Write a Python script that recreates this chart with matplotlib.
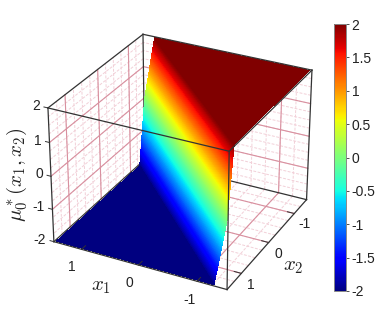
import numpy as np
import matplotlib
matplotlib.use("Agg")
import matplotlib.pyplot as plt
from matplotlib.cm import ScalarMappable
from matplotlib.colors import Normalize

plt.rcParams["font.family"] = ["Liberation Sans", "DejaVu Sans"]
plt.rcParams["mathtext.fontset"] = "cm"

# cross section of the surface, value against x1 + x2
profile_sum = [-2.94, -0.2, 0.2, 2.94]
profile_val = [2.0, 2.0, -2.0, -2.0]
surface_lim = 1.47

xy_ticks = [-1, 0, 1]
xy_labels = ["-1", "0", "1"]
z_ticks = [-2, -1, 0, 1, 2]
z_labels = ["-2", "-1", "0", "1", "2"]
cbar_ticks = [-2, -1.5, -1, -0.5, 0, 0.5, 1, 1.5, 2]
cbar_labels = ["-2", "-1.5", "-1", "-0.5", "0", "0.5", "1", "1.5", "2"]

XL = 1.5
ZL = 2.0
EDGE = "#333333"
MAJOR = "#d8909f"
MINOR = "#f2d0d8"

fig = plt.figure(figsize=(3.92, 3.27), dpi=100)
ax = fig.add_axes([0.049, 0.051, 0.815, 0.92], projection="3d", computed_zorder=False)
ax.set_axis_off()
ax.set_proj_type("persp", focal_length=1.0)
ax.view_init(elev=28.5, azim=117)
ax.set_box_aspect((1, 1, 0.78), zoom=1.0)
ax.set_xlim(-XL, XL)
ax.set_ylim(-XL, XL)
ax.set_zlim(-ZL, ZL)


def wall_grid(vals, zvals):
    # walls: x1 = XL, x2 = -XL and the floor
    for v, c, lw, ls, zo in vals:
        ax.plot([XL, XL], [v, v], [-ZL, ZL], color=c, lw=lw, ls=ls, zorder=zo)
        ax.plot([v, v], [-XL, -XL], [-ZL, ZL], color=c, lw=lw, ls=ls, zorder=zo)
        ax.plot([v, v], [-XL, XL], [-ZL, -ZL], color=c, lw=lw, ls=ls, zorder=zo)
        ax.plot([-XL, XL], [v, v], [-ZL, -ZL], color=c, lw=lw, ls=ls, zorder=zo)
    for v, c, lw, ls, zo in zvals:
        ax.plot([XL, XL], [-XL, XL], [v, v], color=c, lw=lw, ls=ls, zorder=zo)
        ax.plot([-XL, XL], [-XL, -XL], [v, v], color=c, lw=lw, ls=ls, zorder=zo)


minor_xy = [(v, MINOR, 0.7, (0, (3, 1.5)), 1) for v in np.arange(-1.25, 1.5, 0.25)]
major_xy = [(v, MAJOR, 0.8, "-", 2) for v in xy_ticks]
minor_z = [(v, MINOR, 0.7, (0, (3, 1.5)), 1) for v in np.arange(-1.75, 2, 0.25)]
major_z = [(v, MAJOR, 0.8, "-", 2) for v in z_ticks[1:-1]]
wall_grid(minor_xy + major_xy, minor_z + major_z)

# box edges behind the surface
back = [([XL, XL], [-XL, -XL], [-ZL, ZL]),
        ([XL, XL], [-XL, XL], [-ZL, -ZL]),
        ([XL, -XL], [-XL, -XL], [-ZL, -ZL]),
        ([-XL, -XL], [-XL, -XL], [-ZL, ZL]),
        ([XL, XL], [XL, XL], [-ZL, ZL])]
for xs, ys, zs in back:
    ax.plot(xs, ys, zs, color=EDGE, lw=0.9, zorder=3)

# strips along x1 + x2 = const, fine across the ramp so the colours shade smoothly
s = np.concatenate([[profile_sum[0]], np.linspace(profile_sum[1], profile_sum[2], 241), [profile_sum[3]]])
x_lo = np.maximum(-surface_lim, s - surface_lim)
x_hi = np.minimum(surface_lim, s + surface_lim)
X = np.column_stack([x_lo, x_hi])
Y = s[:, None] - X
Z = np.interp(X + Y, profile_sum, profile_val)
ax.plot_surface(X, Y, Z, cmap="jet", vmin=-2, vmax=2, rstride=1, cstride=1,
                linewidth=0, antialiased=False, shade=False, zorder=4)

# box edges in front of the surface
front = [([XL, -XL], [XL, XL], [ZL, ZL]),
         ([XL, XL], [-XL, XL], [ZL, ZL]),
         ([XL, -XL], [-XL, -XL], [ZL, ZL]),
         ([-XL, -XL], [-XL, XL], [ZL, ZL]),
         ([-XL, -XL], [XL, XL], [-ZL, ZL]),
         ([XL, -XL], [XL, XL], [-ZL, -ZL]),
         ([-XL, -XL], [-XL, XL], [-ZL, -ZL])]
for xs, ys, zs in front:
    ax.plot(xs, ys, zs, color=EDGE, lw=0.9, zorder=5)

# ticks and tick labels
for v, lab in zip(xy_ticks, xy_labels):
    ax.plot([v, v], [XL, XL - 0.12], [-ZL, -ZL], color=EDGE, lw=0.7, zorder=5)
    ax.text(v - 0.12, XL + 0.5, -ZL, lab, fontsize=10, ha="center", va="center", color="#222222", zorder=6)
    ax.plot([-XL, -XL + 0.12], [v, v], [-ZL, -ZL], color=EDGE, lw=0.7, zorder=5)
    ax.text(-XL - 0.27, v + 0.23, -ZL, lab, fontsize=10, ha="center", va="center", color="#222222", zorder=6)
for v, lab in zip(z_ticks, z_labels):
    ax.plot([XL, XL + 0.07], [XL, XL], [v, v], color=EDGE, lw=0.7, zorder=5)
    ax.text(XL + 0.14, XL, v, lab, fontsize=10, ha="right", va="center", color="#222222", zorder=6)

fig.text(101 / 392, 1 - 287 / 327, r"$x_1$", fontsize=15, ha="center", va="center", color="#222222")
fig.text(293 / 392, 1 - 266 / 327, r"$x_2$", fontsize=15, ha="center", va="center", color="#222222")
fig.text(17 / 392, 1 - 175 / 327, r"$\mu_0^*(x_1,x_2)$", fontsize=15, rotation=90,
         ha="center", va="center", color="#222222")

# colour bar
cax = fig.add_axes([334 / 392, 1 - 291 / 327, 12 / 392, 267 / 327])
cb = fig.colorbar(ScalarMappable(Normalize(-2, 2), "jet"), cax=cax)
cb.set_ticks(cbar_ticks)
cb.set_ticklabels(cbar_labels)
cb.ax.tick_params(labelsize=10, length=2.5, width=0.6, pad=1.5, color="#333333", labelcolor="#222222")
cb.outline.set_edgecolor("#888888")
cb.outline.set_linewidth(0.7)

fig.savefig("out.png", dpi=100)
